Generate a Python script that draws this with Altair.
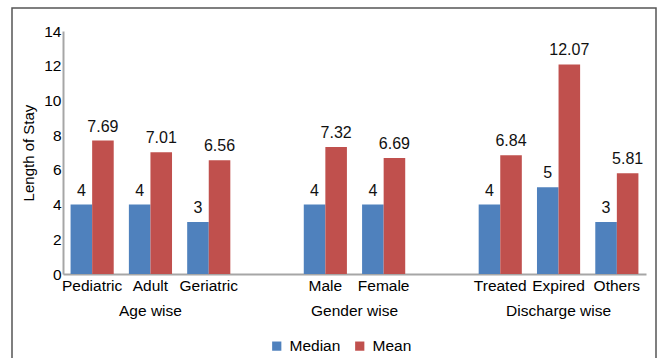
import altair as alt
import pandas as pd

categories = ["Pediatric", "Adult", "Geriatric", "Male", "Female", "Treated", "Expired", "Others"]
median_values = [4, 4, 3, 4, 4, 4, 5, 3]
mean_values = [7.69, 7.01, 6.56, 7.32, 6.69, 6.84, 12.07, 5.81]
series = ["Median", "Mean"]
slot_order = ["Pediatric", "Adult", "Geriatric", "gap1", "Male", "Female", "gap2", "Treated", "Expired", "Others"]
group_names = ["Age wise", "Gender wise", "Discharge wise"]
group_anchor = ["Adult", "Male", "Expired"]
y_ticks = [0, 2, 4, 6, 8, 10, 12, 14]

rows = []
for c, md, mn in zip(categories, median_values, mean_values):
    rows.append({"category": c, "series": "Median", "value": md, "label": f"{md}"})
    rows.append({"category": c, "series": "Mean", "value": mn, "label": f"{mn:.2f}"})
df = pd.DataFrame(rows)

groups = pd.DataFrame({"group": group_names, "anchor": group_anchor})

W, H = 583, 243
FONT = "Liberation Sans"
FS = 15.5
STEP = W / len(slot_order)

xscale = alt.Scale(domain=slot_order, paddingInner=0.26, paddingOuter=0.13)
xaxis = alt.Axis(
    title=None, labelAngle=0, ticks=False, domainColor="#a6a6a6", domainWidth=2,
    labelFont=FONT, labelFontSize=FS, labelColor="#000000", labelPadding=4,
    labelExpr="indexof(datum.label,'gap')==0 ? '' : datum.label",
)
yscale = alt.Scale(domain=[0, 14], nice=False)
yaxis = alt.Axis(
    title="Length of Stay", values=y_ticks, ticks=False, grid=False,
    domainColor="#a6a6a6", domainWidth=2, labelFont=FONT, labelFontSize=FS,
    labelColor="#000000", labelPadding=2, titleFont=FONT, titleFontSize=FS - 0.5,
    titleFontWeight="normal", titleColor="#000000", titlePadding=7,
)

x_enc = alt.X("category:N", scale=xscale, axis=xaxis)
xo_enc = alt.XOffset("series:N", scale=alt.Scale(domain=series, paddingInner=0, paddingOuter=0))
y_enc = alt.Y("value:Q", scale=yscale, axis=yaxis)

base = alt.Chart(df)

bars = base.mark_bar().encode(
    x=x_enc, xOffset=xo_enc, y=y_enc,
    color=alt.Color(
        "series:N",
        scale=alt.Scale(domain=series, range=["#4F81BD", "#C0504D"]),
        legend=alt.Legend(
            title=None, orient="none", direction="horizontal", legendX=206, legendY=307,
            symbolType="square", symbolSize=85, symbolStrokeWidth=0,
            labelFont=FONT, labelFontSize=FS, labelColor="#000000", columnPadding=11,
            labelOffset=5,
        ),
    ),
)

labels = base.mark_text(baseline="bottom", dy=-6, font=FONT, fontSize=16, color="#111111").encode(
    x=x_enc, xOffset=xo_enc, y=y_enc, text="label:N"
)

group_main = alt.Chart(groups).transform_filter("datum.group != 'Gender wise'").mark_text(
    baseline="middle", font=FONT, fontSize=FS, color="#000000"
).encode(x=alt.X("anchor:N", scale=xscale, axis=xaxis), y=alt.value(H + 37), text="group:N")

group_gender = alt.Chart(groups).transform_filter("datum.group == 'Gender wise'").mark_text(
    baseline="middle", font=FONT, fontSize=FS, color="#000000", dx=STEP / 2
).encode(x=alt.X("anchor:N", scale=xscale, axis=xaxis), y=alt.value(H + 37), text="group:N")

frame = alt.Chart(pd.DataFrame({"k": [0]})).mark_rect(
    fillOpacity=0, stroke="#555555", strokeWidth=1.5
).encode(x=alt.value(-51), x2=alt.value(593), y=alt.value(-23), y2=alt.value(340))

chart = alt.layer(frame, bars, labels, group_main, group_gender).properties(
    width=W, height=H,
    autosize=alt.AutoSizeParams(type="none"),
    padding={"left": 63, "top": 31, "right": 11, "bottom": 84},
    background="white",
).configure_view(stroke=None)

chart.save("out.html", embed_options={"renderer": "svg", "actions": False})
